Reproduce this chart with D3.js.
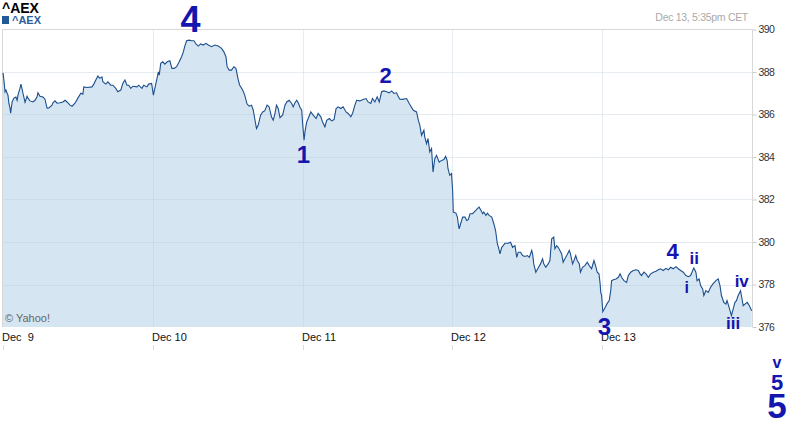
<!DOCTYPE html>
<html><head><meta charset="utf-8">
<script src="https://cdn.jsdelivr.net/npm/d3@7"></script>
<style>
html,body{margin:0;padding:0;background:#fff;}
svg{display:block;font-family:"Liberation Sans",Arial,sans-serif;}
</style></head>
<body><div id="chart"></div>
<script>
// ---- data: minutes after 09:00 open (session 09:00-17:30 = 510 min), index level ----
const dayLabels = ["Dec  9","Dec 10","Dec 11","Dec 12","Dec 13"];
const yTicks = [376,378,380,382,384,386,388,390];
const dec9 = [[0,387.96],[3,387.62],[7,387.07],[10,387.15],[14,387.00],[17,386.91],[20,386.53],[24,386.30],[26,386.06],[31,386.59],[37,386.77],[44,386.82],[48,386.67],[51,386.91],[58,387.24],[61,387.43],[65,387.19],[68,387.00],[75,386.58],[82,386.86],[85,386.77],[92,386.64],[102,386.59],[109,386.67],[116,386.83],[119,387.02],[126,386.86],[136,386.82],[143,386.72],[150,386.30],[156,386.31],[167,386.44],[170,386.55],[177,386.64],[184,386.53],[194,386.55],[204,386.59],[211,386.67],[218,386.59],[228,386.44],[235,386.39],[245,386.53],[255,386.77],[265,387.00],[272,386.96],[275,387.30],[286,387.27],[303,387.30],[309,387.43],[316,387.62],[323,387.81],[330,387.70],[337,387.77],[340,387.54],[350,387.43],[357,387.54],[367,387.38],[374,387.38],[384,387.23],[391,387.07],[401,387.15],[408,387.46],[415,387.62],[422,387.38],[428,387.38],[435,387.23],[442,387.33],[456,387.30],[462,387.38],[473,387.23],[479,387.38],[490,387.30],[496,387.43],[506,387.46]];
const dec10 = [[2,386.91],[7,387.23],[13,387.62],[19,388.01],[22,387.85],[27,388.41],[34,388.48],[41,388.37],[49,388.48],[58,388.53],[65,388.17],[73,388.17],[81,388.25],[90,388.48],[98,388.72],[104,388.95],[109,389.22],[115,389.47],[124,389.50],[132,389.47],[140,389.47],[147,389.32],[155,389.22],[163,389.32],[172,389.27],[181,389.35],[189,389.27],[200,389.19],[211,389.27],[223,389.22],[234,389.11],[242,388.95],[249,388.72],[253,388.25],[260,388.09],[268,388.09],[276,388.25],[283,388.17],[291,387.62],[296,387.38],[306,387.15],[313,386.91],[321,386.49],[328,386.39],[336,386.44],[342,386.20],[348,385.73],[353,385.34],[359,385.50],[367,385.97],[374,386.12],[381,386.17],[389,386.44],[396,386.36],[404,385.89],[410,385.73],[416,386.05],[421,386.44],[427,386.28],[433,385.85],[442,385.97],[450,386.44],[456,386.59],[464,386.67],[473,386.52],[478,386.36],[484,386.55],[490,386.67],[495,386.55],[501,386.34],[507,386.20]];
const dec11 = [[0,385.59],[5,384.79],[8,385.18],[14,385.65],[19,385.81],[28,386.12],[36,385.97],[46,385.81],[53,386.05],[62,385.89],[68,385.65],[76,385.42],[82,385.73],[91,385.81],[99,385.70],[107,385.76],[114,386.28],[121,386.36],[130,386.28],[138,386.36],[148,386.12],[155,386.05],[164,385.89],[170,386.05],[178,386.44],[184,386.67],[195,386.64],[206,386.71],[216,386.75],[223,386.59],[232,386.52],[238,386.75],[246,386.59],[254,386.83],[261,386.59],[269,387.07],[277,387.11],[286,387.07],[295,387.02],[303,387.11],[311,386.99],[320,387.02],[326,386.83],[331,386.72],[340,386.71],[354,386.75],[363,386.52],[377,386.20],[388,386.12],[394,385.73],[399,385.50],[405,385.02],[413,385.26],[416,384.94],[422,384.63],[427,384.87],[433,384.24],[439,384.40],[444,383.29],[450,383.92],[456,384.08],[465,383.76],[473,383.84],[481,383.88],[487,384.03],[492,383.84],[495,383.45],[501,383.14],[507,383.22]];
const dec12 = [[1,382.35],[3,381.41],[12,381.36],[17,381.17],[20,380.86],[23,380.62],[28,380.86],[35,381.17],[43,381.17],[49,381.01],[54,381.05],[60,381.33],[69,381.33],[77,381.45],[85,381.57],[91,381.64],[97,381.49],[103,381.33],[107,381.41],[114,381.25],[119,381.36],[125,381.25],[134,381.17],[141,380.86],[147,380.54],[153,379.92],[157,379.75],[162,379.44],[168,379.75],[173,379.83],[179,379.94],[190,379.94],[198,379.99],[205,379.75],[213,379.83],[219,379.28],[224,379.52],[232,379.52],[239,379.36],[247,379.32],[255,379.36],[262,379.28],[270,379.60],[273,379.44],[277,378.97],[284,378.58],[292,378.78],[300,378.97],[307,379.21],[311,378.97],[318,378.81],[326,378.97],[332,379.13],[338,380.15],[345,380.23],[349,379.68],[355,379.83],[360,379.75],[366,379.60],[372,379.44],[377,379.05],[383,379.21],[391,379.41],[398,379.60],[402,379.44],[409,378.97],[414,379.13],[420,379.36],[425,379.13],[432,378.97],[436,378.58],[443,378.81],[451,378.89],[459,379.05],[466,378.89],[474,378.74],[482,379.13],[489,378.81],[493,378.58],[499,378.50],[503,378.03],[505,377.63],[508,377.48]];
const dec13 = [[2,376.72],[10,376.92],[17,377.11],[24,377.24],[29,377.71],[32,378.18],[38,378.22],[47,378.26],[55,378.34],[61,378.50],[66,378.34],[74,378.18],[83,378.10],[89,378.42],[97,378.58],[106,378.66],[115,378.69],[123,378.66],[129,378.50],[134,378.42],[142,378.58],[149,378.50],[157,378.34],[165,378.50],[174,378.58],[183,378.62],[191,378.69],[199,378.74],[208,378.66],[217,378.76],[225,378.69],[233,378.81],[242,378.74],[251,378.84],[259,378.74],[267,378.66],[276,378.58],[285,378.42],[293,378.37],[301,378.42],[308,378.66],[312,378.78],[319,378.58],[323,378.18],[330,378.26],[335,377.95],[342,377.79],[346,377.48],[353,377.71],[361,377.63],[369,377.87],[377,378.03],[387,378.18],[395,378.26],[401,377.95],[406,377.48],[414,377.16],[421,377.08],[425,377.24],[432,376.92],[440,376.53],[446,376.85],[452,377.16],[457,377.24],[463,377.48],[471,377.71],[475,377.40],[480,377.00],[486,377.08],[494,377.16],[501,377.00],[509,376.77]];
const sessionMinutes = 510;
// annotations: [label, dayIndex, minute, level, size]
const waveLabels = [
  ["4", 1, 128, 389.88, 36],
  ["1", 2, 3, 383.72, 24],
  ["2", 2, 283, 387.48, 22],
  ["3", 4, 8, 375.62, 24],
  ["4", 4, 240, 379.2, 22],
  ["ii", 4, 313, 378.96, 17],
  ["i", 4, 288, 377.6, 16],
  ["iv", 4, 475, 377.88, 17],
  ["iii", 4, 446, 375.9, 17]
];
const tailLabels = [["v",16,368],["5",22,390],["5",35,418]];

const W=790,H=427;
const L=3,R=752,T=29.5,B=327;
const svg=d3.select("#chart").append("svg").attr("width",W).attr("height",H);
const x=d3.scaleLinear().domain([0,dayLabels.length*sessionMinutes]).range([L,R]);
const y=d3.scaleLinear().domain([376,390]).range([B,T]);

const series=[dec9,dec10,dec11,dec12,dec13].flatMap((d,i)=>d.map(p=>({t:i*sessionMinutes+p[0],v:p[1]})));

// area
svg.append("path").datum(series)
  .attr("d",d3.area().x(d=>x(d.t)).y0(B).y1(d=>y(d.v)))
  .attr("fill","#d6e5f2");

// grid
const g=svg.append("g");
g.selectAll(".hg").data(yTicks.filter(v=>v>376&&v<390)).enter().append("line")
  .attr("x1",L).attr("x2",R).attr("y1",d=>Math.round(y(d))+0.5).attr("y2",d=>Math.round(y(d))+0.5)
  .attr("stroke","#b9c8dc").attr("stroke-opacity",0.35);
g.selectAll(".vg").data(d3.range(1,dayLabels.length)).enter().append("line")
  .attr("x1",d=>Math.round(x(d*sessionMinutes))+0.5).attr("x2",d=>Math.round(x(d*sessionMinutes))+0.5)
  .attr("y1",T).attr("y2",B)
  .attr("stroke","#b9c8dc").attr("stroke-opacity",0.35);
// frame
svg.append("path").attr("d",`M${L-0.5},${B} V${T} H${R+0.5} V${B}`)
  .attr("fill","none").attr("stroke","#d8d8d8");

// line
svg.append("path").datum(series)
  .attr("d",d3.line().x(d=>x(d.t)).y(d=>y(d.v)))
  .attr("fill","none").attr("stroke","#1c4f8d").attr("stroke-width",1.1);

// y axis (right)
const ya=svg.append("g").attr("transform",`translate(${R+0.5},0)`)
  .call(d3.axisRight(y).tickValues(yTicks).tickSize(4).tickPadding(2).tickFormat(d3.format("d")));
ya.select(".domain").remove();
ya.selectAll(".tick line").attr("stroke","#ccc");
ya.selectAll(".tick text").attr("fill","#333").style("font-size","10.5px").style("letter-spacing","-0.6px")
  .style("font-family","'Liberation Sans',Arial,sans-serif");

// x axis labels
const xa=svg.append("g");
dayLabels.forEach((lab,i)=>{
  const px=Math.round(x(i*sessionMinutes));
  xa.append("text").attr("x",px-1).attr("y",341).text(lab)
    .style("white-space","pre").attr("fill","#111").style("font-size","11px");
  xa.append("line").attr("x1",px+0.5).attr("x2",px+0.5).attr("y1",345).attr("y2",350).attr("stroke","#ddd");
});

// title/legend
svg.append("text").attr("x",2).attr("y",13).text("^AEX").style("font-weight","bold").style("font-size","14px").attr("fill","#000");
svg.append("rect").attr("x",2).attr("y",16).attr("width",7).attr("height",8).attr("fill","#1f5a96");
svg.append("text").attr("x",12).attr("y",24).text("^AEX").style("font-weight","bold").style("font-size","11px").attr("fill","#2b5e9c");
svg.append("text").attr("x",748).attr("y",21).attr("text-anchor","end").text("Dec 13, 5:35pm CET")
  .style("font-size","10.5px").style("letter-spacing","-0.3px").attr("fill","#aaa");
svg.append("text").attr("x",5).attr("y",322).text("\u00A9 Yahoo!").style("font-size","11px").attr("fill","#666");

// wave annotations
const blue="#1515b0";
svg.selectAll(".wl").data(waveLabels).enter().append("text")
  .attr("x",d=>x(d[1]*sessionMinutes+d[2])).attr("y",d=>y(d[3]))
  .attr("text-anchor","middle").text(d=>d[0])
  .style("font-weight","bold").style("font-size",d=>d[4]+"px").attr("fill",blue);
svg.selectAll(".tl").data(tailLabels).enter().append("text")
  .attr("x",777).attr("y",d=>d[2]).attr("text-anchor","middle").text(d=>d[0])
  .style("font-weight","bold").style("font-size",d=>d[1]+"px").attr("fill",blue);
</script></body></html>
